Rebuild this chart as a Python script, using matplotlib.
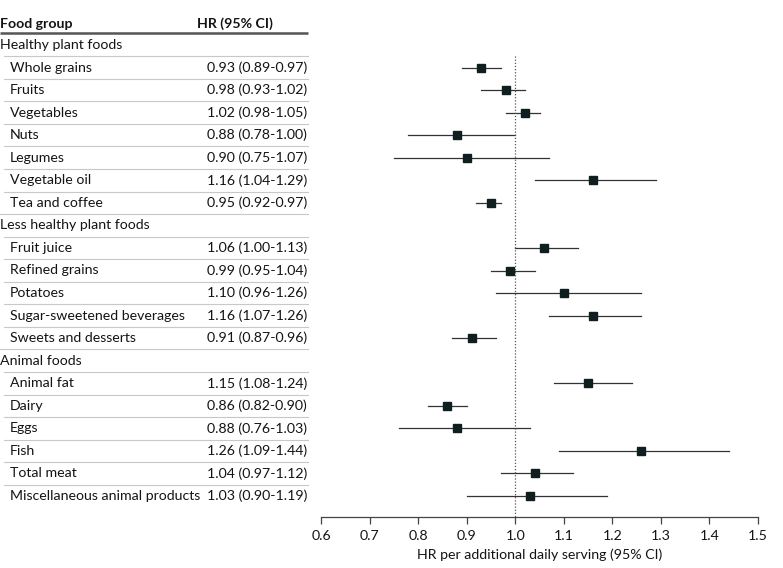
import matplotlib
matplotlib.use('Agg')
import matplotlib.pyplot as plt

plt.rcParams.update({
    'font.family': ['Lato', 'DejaVu Sans'],
    'font.size': 10.2,
})

groups = ["Healthy plant foods", "Less healthy plant foods", "Animal foods"]
foods = [
    ["Whole grains", "Fruits", "Vegetables", "Nuts", "Legumes",
     "Vegetable oil", "Tea and coffee"],
    ["Fruit juice", "Refined grains", "Potatoes", "Sugar-sweetened beverages",
     "Sweets and desserts"],
    ["Animal fat", "Dairy", "Eggs", "Fish", "Total meat",
     "Miscellaneous animal products"],
]
hr = [
    [0.93, 0.98, 1.02, 0.88, 0.90, 1.16, 0.95],
    [1.06, 0.99, 1.10, 1.16, 0.91],
    [1.15, 0.86, 0.88, 1.26, 1.04, 1.03],
]
lo = [
    [0.89, 0.93, 0.98, 0.78, 0.75, 1.04, 0.92],
    [1.00, 0.95, 0.96, 1.07, 0.87],
    [1.08, 0.82, 0.76, 1.09, 0.97, 0.90],
]
hi = [
    [0.97, 1.02, 1.05, 1.00, 1.07, 1.29, 0.97],
    [1.13, 1.04, 1.26, 1.26, 0.96],
    [1.24, 0.90, 1.03, 1.44, 1.12, 1.19],
]
xticks = [0.6, 0.7, 0.8, 0.9, 1.0, 1.1, 1.2, 1.3, 1.4, 1.5]

W, H = 783, 568
y0, dy = 45, 22.55  # pixel y of first row, row step


def to_row(py):
    return (py - y0) / dy


fig = plt.figure(figsize=(W / 100, H / 100), dpi=100)

# table axes over whole figure: x in pixels, y in row units
tab = fig.add_axes([0, 0, 1, 1])
tab.set_xlim(0, W)
tab.set_ylim(to_row(H), to_row(0))
tab.axis('off')

# forest axes
ax_top, ax_bot = 35, 517
fx0, fx1 = 321, 758
ax = fig.add_axes([fx0 / W, 1 - ax_bot / H, (fx1 - fx0) / W, (ax_bot - ax_top) / H])
ax.set_xlim(0.6, 1.5)
ax.set_ylim(to_row(ax_bot), to_row(ax_top))
ax.patch.set_alpha(0)

ink = '#141414'
tab.text(0, to_row(24), "Food group", fontweight='bold', va='center', ha='left', color=ink)
tab.text(197, to_row(24), "HR (95% CI)", fontweight='bold', va='center', ha='left', color=ink)
tab.plot([0, 308], [to_row(33), to_row(33)], color='#555555', lw=1.8, solid_capstyle='butt')

row = 0
for g, names, h, l, u in zip(groups, foods, hr, lo, hi):
    if row > 0:
        tab.plot([0, 308], [row - 0.5, row - 0.5], color='#c8c8c8', lw=0.8)
    tab.text(0, row, g, va='center', ha='left', color=ink)
    row += 1
    for name, v, a, b in zip(names, h, l, u):
        tab.plot([4, 308], [row - 0.5, row - 0.5], color='#c8c8c8', lw=0.8)
        tab.text(10, row, name, va='center', ha='left', color=ink)
        tab.text(307, row, f"{v:.2f} ({a:.2f}-{b:.2f})", va='center', ha='right', color=ink)
        ax.plot([a, b], [row, row], color='#333333', lw=0.9)
        ax.plot(v, row, marker='s', ms=5.8, color='#0f1f1f', mec='#0f1f1f')
        row += 1

ax.plot([1.0, 1.0], [0.5, to_row(ax_bot)], color='#555555', lw=0.9, ls=(0, (1, 1.5)))

for s in ['top', 'right', 'left']:
    ax.spines[s].set_visible(False)
ax.spines['bottom'].set_color('#444444')
ax.spines['bottom'].set_linewidth(0.9)
ax.set_yticks([])
ax.set_xticks(xticks)
ax.set_xticklabels([f"{t:.1f}" for t in xticks])
ax.tick_params(axis='x', direction='out', length=5, width=0.9, color='#444444',
               labelsize=10.2, labelcolor=ink, pad=4)
ax.set_xlabel("HR per additional daily serving (95% CI)", fontsize=10.2, color=ink, labelpad=5)

fig.savefig("out.png", dpi=100, facecolor='white')
